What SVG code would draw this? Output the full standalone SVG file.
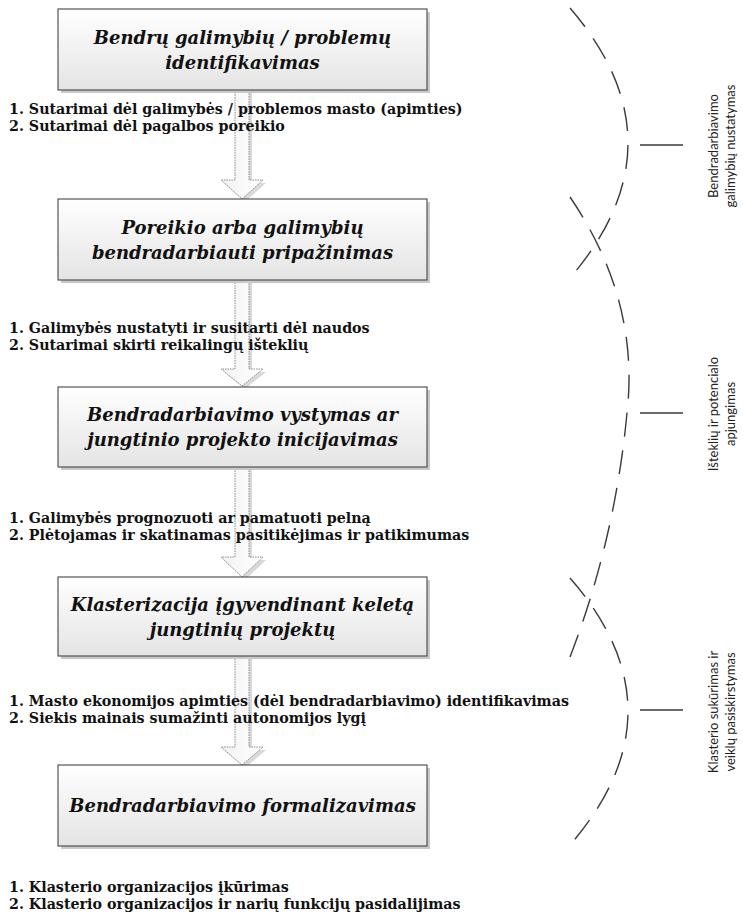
<svg xmlns="http://www.w3.org/2000/svg" width="743" height="919" viewBox="0 0 743 919">
<style>
.box{fill:url(#boxg);stroke:#454545;stroke-width:1.1}
.shadow{fill:#c9c9c9}
.bt{font-family:"DejaVu Serif",serif;font-weight:bold;font-style:italic;font-size:18px;fill:#111;text-anchor:middle}
.lt{font-family:"DejaVu Serif",serif;font-weight:bold;font-size:14.25px;fill:#111}
.arrow{fill:url(#arrg);stroke:#7f7f7f;stroke-width:0.9;stroke-dasharray:1.5 1}
.ashadow{fill:#d9d9d9}
.br{fill:none;stroke:#3a3a3a;stroke-width:1.4;stroke-dasharray:24 14}
.tick{stroke:#3a3a3a;stroke-width:1.4}
.rt{font-family:"Lato","Open Sans",sans-serif;font-size:13px;fill:#222;text-anchor:middle}
</style>
<defs>
<linearGradient id="boxg" x1="0" y1="0" x2="0" y2="1">
<stop offset="0" stop-color="#ffffff"/>
<stop offset="1" stop-color="#e4e4e4"/>
</linearGradient>
<linearGradient id="arrg" x1="0" y1="0" x2="1" y2="0">
<stop offset="0" stop-color="#f2f2f2"/>
<stop offset="1" stop-color="#ffffff"/>
</linearGradient>
</defs>
<rect width="743" height="919" fill="#ffffff"/>

<g id="connectors">
<g id="arrow1">
<path class="ashadow" d="M237,92 H252 V183 H266 L245,202 L224,183 H237 Z"/>
<path class="arrow" d="M235,90 H249 V180 H263 L242,199 L221,180 H235 Z"/>
</g>
<g id="arrow2">
<path class="ashadow" d="M237,282 H252 V372 H266 L245,389 L224,372 H237 Z"/>
<path class="arrow" d="M235,280 H249 V369 H263 L242,386 L221,369 H235 Z"/>
</g>
<g id="arrow3">
<path class="ashadow" d="M237,469 H252 V560 H266 L245,580 L224,560 H237 Z"/>
<path class="arrow" d="M235,467 H249 V557 H263 L242,577 L221,557 H235 Z"/>
</g>
<g id="arrow4">
<path class="ashadow" d="M237,658 H252 V750 H266 L245,768 L224,750 H237 Z"/>
<path class="arrow" d="M235,656 H249 V747 H263 L242,765 L221,747 H235 Z"/>
</g>
<g id="brackets">
<path class="br" d="M570,8 Q686,143 570,278"/>
<path class="br" d="M570,197 Q640,300 627,413 Q615,540 570,657"/>
<path class="br" d="M570,578 Q686,711 570,845"/>
<line class="tick" x1="640" y1="145" x2="683" y2="145"/>
<line class="tick" x1="640" y1="413" x2="683" y2="413"/>
<line class="tick" x1="640" y1="710" x2="683" y2="710"/>
</g>
</g>

<g id="node1">
<rect class="shadow" x="61" y="12" width="369" height="81"/>
<rect class="box" x="58" y="9" width="369" height="81"/>
<text class="bt" x="242.5" y="44">Bendrų galimybių / problemų</text>
<text class="bt" x="242.5" y="69">identifikavimas</text>
</g>
<g id="node2">
<rect class="shadow" x="61" y="202" width="369" height="81"/>
<rect class="box" x="58" y="199" width="369" height="81"/>
<text class="bt" x="242.5" y="234">Poreikio arba galimybių</text>
<text class="bt" x="242.5" y="259">bendradarbiauti pripažinimas</text>
</g>
<g id="node3">
<rect class="shadow" x="61" y="390" width="369" height="80"/>
<rect class="box" x="58" y="387" width="369" height="80"/>
<text class="bt" x="242.5" y="421">Bendradarbiavimo vystymas ar</text>
<text class="bt" x="242.5" y="446">jungtinio projekto inicijavimas</text>
</g>
<g id="node4">
<rect class="shadow" x="61" y="580" width="369" height="79"/>
<rect class="box" x="58" y="577" width="369" height="79"/>
<text class="bt" x="242.5" y="611">Klasterizacija įgyvendinant keletą</text>
<text class="bt" x="242.5" y="636">jungtinių projektų</text>
</g>
<g id="node5">
<rect class="shadow" x="61" y="768" width="369" height="81"/>
<rect class="box" x="58" y="765" width="369" height="81"/>
<text class="bt" x="242.5" y="812">Bendradarbiavimo formalizavimas</text>
</g>

<g id="labels">
<text class="lt" x="9" y="114">1. Sutarimai dėl galimybės / problemos masto (apimties)</text>
<text class="lt" x="9" y="131">2. Sutarimai dėl pagalbos poreikio</text>
<text class="lt" x="9" y="333">1. Galimybės nustatyti ir susitarti dėl naudos</text>
<text class="lt" x="9" y="350">2. Sutarimai skirti reikalingų išteklių</text>
<text class="lt" x="9" y="523">1. Galimybės prognozuoti ar pamatuoti pelną</text>
<text class="lt" x="9" y="540">2. Plėtojamas ir skatinamas pasitikėjimas ir patikimumas</text>
<text class="lt" x="9" y="706">1. Masto ekonomijos apimties (dėl bendradarbiavimo) identifikavimas</text>
<text class="lt" x="9" y="723">2. Siekis mainais sumažinti autonomijos lygį</text>
<text class="lt" x="9" y="892">1. Klasterio organizacijos įkūrimas</text>
<text class="lt" x="9" y="909">2. Klasterio organizacijos ir narių funkcijų pasidalijimas</text>
</g>

<g id="side-labels">
<text class="rt" transform="translate(718,146) rotate(-90)">Bendradarbiavimo</text>
<text class="rt" transform="translate(735,146) rotate(-90)">galimybių nustatymas</text>
<text class="rt" transform="translate(718,414) rotate(-90)">Išteklių ir potencialo</text>
<text class="rt" transform="translate(735,414) rotate(-90)">apjungimas</text>
<text class="rt" transform="translate(718,712) rotate(-90)">Klasterio sukūrimas ir</text>
<text class="rt" transform="translate(735,712) rotate(-90)">veiklų pasiskirstymas</text>
</g>
</svg>
